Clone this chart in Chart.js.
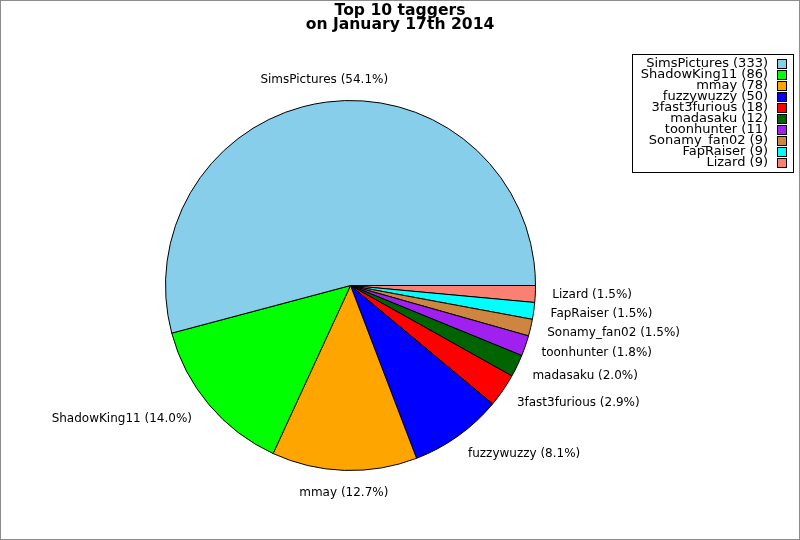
<!DOCTYPE html>
<html>
<head>
<meta charset="utf-8">
<script src="https://cdn.jsdelivr.net/npm/chart.js@4/dist/chart.umd.min.js"></script>
<style>
    html, body { margin: 0; padding: 0; background: #fff; }
    canvas { display: block; }
</style>
</head>
<body>
<canvas id="taggersChart" width="800" height="540"></canvas>
<script>
// Top 10 taggers
const taggers = ["SimsPictures", "ShadowKing11", "mmay", "fuzzywuzzy", "3fast3furious",
                 "madasaku", "toonhunter", "Sonamy_fan02", "FapRaiser", "Lizard"];
const tagCounts = [333, 86, 78, 50, 18, 12, 11, 9, 9, 9];
const sliceColors = ["#87CEEB", "#00FF00", "#FFA500", "#0000FF", "#FF0000",
                     "#006400", "#A020F0", "#CD853F", "#00FFFF", "#FA8072"];
const titleLines = ["Top 10 taggers", "on January 17th 2014"];

const FONT = "'DejaVu Sans', sans-serif";
const total = tagCounts.reduce(function (a, b) { return a + b; }, 0);

// the reference goes counter-clockwise from 3 o'clock, Chart.js goes clockwise,
// so feed the slices in reverse order
const order = taggers.map(function (_, i) { return i; }).reverse();

const decorPlugin = {
    id: "decor",
    afterDatasetsDraw: function (chart) {
        const ctx = chart.ctx;
        const meta = chart.getDatasetMeta(0);
        ctx.save();

        // slice labels
        ctx.font = "12px " + FONT;
        ctx.fillStyle = "#000";
        ctx.textBaseline = "middle";
        meta.data.forEach(function (arc, j) {
            const i = order[j];
            const p = arc.getProps(["x", "y", "startAngle", "endAngle", "outerRadius"], true);
            const mid = (p.startAngle + p.endAngle) / 2;
            const c = Math.cos(mid), s = Math.sin(mid);
            let px = p.x + (p.outerRadius + 17) * c;
            const py = p.y + (p.outerRadius + 17) * s;
            if (c > 0.3) {
                ctx.textAlign = "left";
            } else if (c < -0.3) {
                ctx.textAlign = "right";
                px -= 4;
            } else {
                ctx.textAlign = "center";
            }
            const pct = (tagCounts[i] / total * 100).toFixed(1);
            ctx.fillText(taggers[i] + " (" + pct + "%)", px, py + s * 5.5);
        });

        // title
        ctx.font = "bold 15.6px " + FONT;
        ctx.textAlign = "center";
        ctx.fillText(titleLines[0], 400, 11);
        ctx.fillText(titleLines[1], 400, 25);

        // legend
        ctx.fillStyle = "#fff";
        ctx.fillRect(632.5, 54.5, 161, 118);
        ctx.strokeStyle = "#000";
        ctx.lineWidth = 1;
        ctx.strokeRect(632.5, 54.5, 161, 118);
        ctx.font = "13px " + FONT;
        ctx.textAlign = "right";
        taggers.forEach(function (name, i) {
            const y = 64 + i * 11;
            ctx.fillStyle = "#000";
            ctx.fillText(name + " (" + tagCounts[i] + ")", 768, y);
            ctx.fillStyle = sliceColors[i];
            ctx.fillRect(777.5, y - 4.5, 9, 9);
            ctx.strokeRect(777.5, y - 4.5, 9, 9);
        });

        // frame
        ctx.strokeStyle = "#8c8c8c";
        ctx.strokeRect(0.5, 0.5, 799, 539);
        ctx.restore();
    }
};

new Chart(document.getElementById("taggersChart"), {
    type: "pie",
    data: {
        labels: order.map(function (i) { return taggers[i]; }),
        datasets: [{
            data: order.map(function (i) { return tagCounts[i]; }),
            backgroundColor: order.map(function (i) { return sliceColors[i]; }),
            borderColor: "#000",
            borderWidth: 1,
            hoverOffset: 0
        }]
    },
    options: {
        responsive: false,
        devicePixelRatio: 1,
        animation: false,
        rotation: 90,
        layout: {
            padding: { left: 165, right: 264, top: 100, bottom: 69 }
        },
        plugins: {
            legend: { display: false },
            title: { display: false },
            tooltip: { enabled: false }
        }
    },
    plugins: [decorPlugin]
});
</script>
</body>
</html>
